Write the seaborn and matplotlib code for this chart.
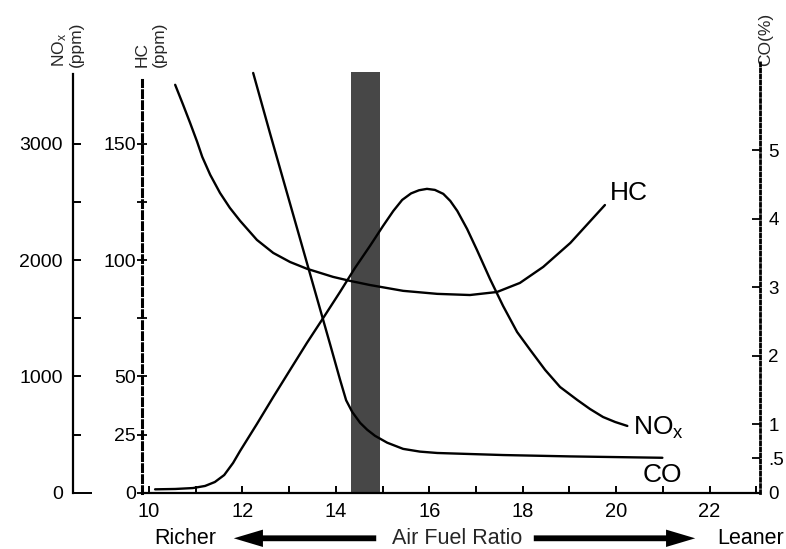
import numpy as np
import pandas as pd
import matplotlib
matplotlib.use("Agg")
import matplotlib.pyplot as plt
import seaborn as sns

# ---------------- data ----------------
hc_afr = [10.56, 10.73, 10.88, 11.03, 11.14, 11.31, 11.52, 11.73, 11.95, 12.31,
          12.66, 13.02, 13.38, 13.94, 14.30, 14.73, 15.44, 16.17, 16.87, 17.45,
          17.94, 18.44, 19.02, 19.76]
hc_ppm = [175.4, 166.8, 159.0, 150.9, 144.4, 136.7, 128.9, 122.5, 116.9, 108.7,
          103.1, 99.2, 96.3, 92.8, 91.1, 89.3, 86.8, 85.5, 85.0, 86.3,
          90.2, 97.1, 107.4, 123.7]

co_afr = [12.23, 12.59, 13.02, 13.45, 13.88, 14.09, 14.22, 14.35, 14.52, 14.67,
          14.84, 15.10, 15.44, 15.80, 16.17, 16.87, 17.58, 19.02, 20.99]
co_pct = [6.13, 5.25, 4.22, 3.19, 2.16, 1.65, 1.35, 1.18, 1.02, 0.92,
          0.83, 0.73, 0.64, 0.60, 0.58, 0.565, 0.55, 0.53, 0.51]

nox_afr = [10.13, 10.56, 10.94, 11.20, 11.41, 11.61, 11.80, 11.95, 12.31, 12.66,
           13.02, 13.38, 13.73, 14.09, 14.41, 14.73, 15.01, 15.23, 15.42, 15.61,
           15.78, 15.95, 16.12, 16.30, 16.45, 16.60, 16.81, 17.02, 17.30, 17.58,
           17.88, 18.16, 18.48, 18.80, 19.17, 19.44, 19.72, 19.98, 20.24]
nox_ppm = [29, 32, 40, 58, 92, 152, 256, 359, 591, 823,
           1056, 1288, 1503, 1727, 1933, 2122, 2294, 2423, 2518, 2574,
           2601, 2613, 2604, 2570, 2509, 2423, 2268, 2088, 1838, 1606,
           1382, 1228, 1056, 909, 797, 720, 651, 608, 574]

stoich_band = [14.33, 14.95]

x_major = [10, 12, 14, 16, 18, 20, 22]
x_minor = [11, 13, 15, 17, 19, 21, 23]
nox_major = [0, 1000, 2000, 3000]
nox_minor = [500, 1500, 2500]
hc_major = [0, 25, 50, 100, 150]
hc_minor = [75, 125]
co_major = [0, 0.5, 1, 2, 3, 4, 5]
co_labels = ["0", ".5", "1", "2", "3", "4", "5"]

curve_names = ["HC", "NO$_x$", "CO"]

# ---------------- style ----------------
sns.set_theme(style="white")
plt.rcParams["font.family"] = ["Liberation Sans", "DejaVu Sans"]
plt.rcParams["mathtext.fontset"] = "custom"
plt.rcParams["mathtext.rm"] = "Liberation Sans"
plt.rcParams["mathtext.it"] = "Liberation Sans:italic"
plt.rcParams["mathtext.default"] = "regular"
plt.rcParams["text.color"] = "black"
plt.rcParams["xtick.color"] = "black"
plt.rcParams["ytick.color"] = "black"

W, H = 786, 549
fig = plt.figure(figsize=(W / 100, H / 100), dpi=100)
fig.patch.set_facecolor("white")

left_px, right_px, bottom_px, top_px = 142, 760, 492.7, 62
ax = fig.add_axes([left_px / W, 1 - bottom_px / H,
                   (right_px - left_px) / W, (bottom_px - top_px) / H])
ax.set_facecolor("white")

line_kw = dict(color="black", linewidth=1.7, sort=False, estimator=None,
               solid_joinstyle="round", solid_capstyle="round")

# ---------------- HC axis (host) ----------------
ax.set_xlim(9.85, 23.08)
ax.set_ylim(0, 185.2)
ax.axvspan(stoich_band[0], stoich_band[1], ymin=0, ymax=0.9775,
           color="#474747", lw=0, zorder=0)

hc_df = pd.DataFrame({"afr": hc_afr, "val": hc_ppm})
sns.lineplot(data=hc_df, x="afr", y="val", ax=ax, **line_kw)

for s in ["top", "right"]:
    ax.spines[s].set_visible(False)
ax.spines["left"].set_linestyle((0, (2.2, 1.4)))
ax.spines["left"].set_linewidth(2.2)
ax.spines["left"].set_color("black")
ax.spines["left"].set_bounds(0, 177.5)
ax.spines["bottom"].set_linewidth(1.6)
ax.spines["bottom"].set_color("black")

ax.set_xticks(x_major)
ax.set_xticks(x_minor, minor=True)
ax.tick_params(axis="x", which="both", bottom=True, direction="in",
               length=5, width=1.4, pad=7, labelsize=14.5)
ax.set_yticks(hc_major)
ax.set_yticks(hc_minor, minor=True)
ax.tick_params(axis="y", which="both", left=True, direction="inout",
               length=7, width=1.3, pad=1, labelsize=14)

ax.set_xlabel("Air Fuel Ratio", fontsize=15.5)
ax.xaxis.set_label_coords((457 - left_px) / (right_px - left_px),
                          (bottom_px - 538.3) / (bottom_px - top_px))
ax.xaxis.label.set_va("center")

ax.set_ylabel("HC\n(ppm)", fontsize=12.5, linespacing=1.15)
ax.yaxis.set_label_coords((151 - left_px) / (right_px - left_px),
                          (bottom_px - 67) / (bottom_px - top_px))
ax.yaxis.label.set(ha="left", va="center", rotation_mode="anchor")

# ---------------- NOx axis (outer left) ----------------
ax2 = ax.twinx()
ax2.set_ylim(0, 3704)
nox_df = pd.DataFrame({"afr": nox_afr, "val": nox_ppm})
sns.lineplot(data=nox_df, x="afr", y="val", ax=ax2, **line_kw)
for s in ["top", "right", "bottom"]:
    ax2.spines[s].set_visible(False)
ax2.spines["left"].set_visible(True)
ax2.spines["left"].set_position(("outward", (left_px - 72.7) * 0.72))
ax2.spines["left"].set_bounds(0, 3602)
ax2.spines["left"].set_linewidth(1.6)
ax2.spines["left"].set_color("black")
ax2.yaxis.set_ticks_position("left")
ax2.yaxis.set_label_position("left")
ax2.set_yticks(nox_major)
ax2.set_yticks(nox_minor, minor=True)
ax2.tick_params(axis="y", which="both", left=True, right=False,
                labelleft=True, labelright=False, direction="in",
                length=6, width=1.4, pad=7, labelsize=14)
ax2.yaxis.get_major_ticks()[0].tick1line.set_markersize(14)
ax2.set_xlabel("")
ax2.set_ylabel("NO$_x$\n(ppm)", fontsize=12.5, linespacing=1.0)
ax2.yaxis.set_label_coords((67 - left_px) / (right_px - left_px),
                           (bottom_px - 67) / (bottom_px - top_px))
ax2.yaxis.label.set(ha="left", va="center", rotation_mode="anchor")

# ---------------- CO axis (right, dotted) ----------------
ax3 = ax.twinx()
ax3.set_ylim(0, 6.29)
co_df = pd.DataFrame({"afr": co_afr, "val": co_pct})
sns.lineplot(data=co_df, x="afr", y="val", ax=ax3, **line_kw)
for s in ["top", "left", "bottom"]:
    ax3.spines[s].set_visible(False)
ax3.spines["right"].set_linestyle((0, (1, 1.2)))
ax3.spines["right"].set_linewidth(2.0)
ax3.spines["right"].set_color("black")
ax3.set_yticks(co_major, labels=co_labels)
ax3.tick_params(axis="y", which="both", right=True, left=False,
                direction="in", length=6, width=1.3, pad=6, labelsize=13.5)
ax3.set_xlabel("")
ax3.set_ylabel("CO(%)", fontsize=12.5)
ax3.yaxis.set_label_coords((766 - left_px) / (right_px - left_px),
                           (bottom_px - 66) / (bottom_px - top_px))
ax3.yaxis.label.set(ha="left", va="center", rotation_mode="anchor",
                    rotation=90)

# ---------------- curve labels ----------------
ax.text(19.87, 128.9, curve_names[0], fontsize=19, va="center", ha="left")
ax.text(20.36, 27.8, curve_names[1], fontsize=19, va="center", ha="left")
ax.text(20.56, 7.6, curve_names[2], fontsize=19, va="center", ha="left")

# ---------------- bottom annotations ----------------
ybot = 1 - 538.3 / H
fig.text(185 / W, ybot, "Richer", fontsize=15.5, ha="center", va="center")
fig.text(784 / W, ybot, "Leaner", fontsize=15.5, ha="right", va="center")
arrow_style = "simple,head_length=2.1,head_width=1.25,tail_width=0.42"
fig.add_artist(matplotlib.patches.FancyArrowPatch(
    (379 / W, ybot), (231 / W, ybot), transform=fig.transFigure,
    arrowstyle=arrow_style, mutation_scale=10, fc="black", ec="none"))
fig.add_artist(matplotlib.patches.FancyArrowPatch(
    (531 / W, ybot), (698 / W, ybot), transform=fig.transFigure,
    arrowstyle=arrow_style, mutation_scale=10, fc="black", ec="none"))

fig.savefig("out.png", dpi=100, facecolor="white")
